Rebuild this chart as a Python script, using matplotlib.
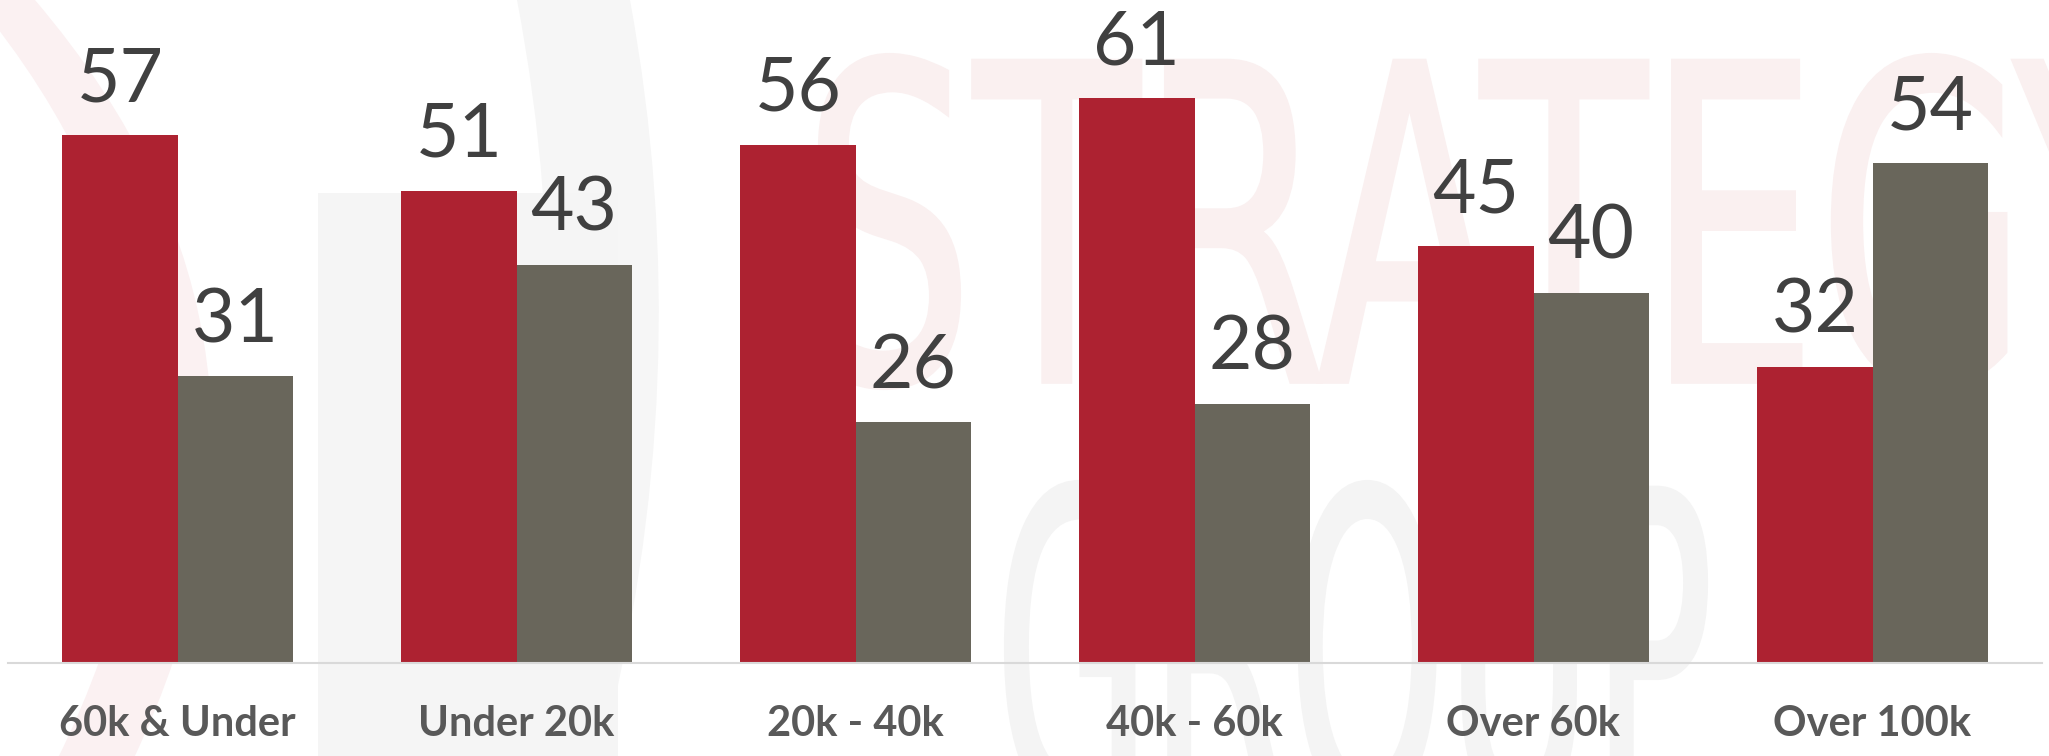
import matplotlib
matplotlib.use('Agg')
import matplotlib.pyplot as plt
from matplotlib.textpath import TextPath
from matplotlib.patches import PathPatch, Rectangle
from matplotlib.path import Path
from matplotlib.transforms import Affine2D
from matplotlib.font_manager import FontProperties

categories = ['60k & Under', 'Under 20k', '20k - 40k', '40k - 60k', 'Over 60k', 'Over 100k']
red_vals = [57, 51, 56, 61, 45, 32]
gray_vals = [31, 43, 26, 28, 40, 54]

RED = '#AD2231'
GRAY = '#69665B'
W, H = 2049, 756

fig = plt.figure(figsize=(W / 100, H / 100), dpi=100)
fig.patch.set_facecolor('white')


def px(x, y):
    # pixel (from top-left) -> figure fraction
    return (x / W, (H - y) / H)


def watermark(s, x0, y0, w, h, color):
    # faint logo text, box given in pixels from the top-left corner
    tp = TextPath((0, 0), s, size=100, prop=FontProperties(family='DejaVu Sans'))
    ext = tp.get_extents()
    tr = (Affine2D().translate(-ext.x0, -ext.y0)
          .scale(w / ext.width / W, h / ext.height / H)
          .translate(x0 / W, (H - y0 - h) / H))
    fig.add_artist(PathPatch(tr.transform_path(tp), fc=color, ec=color, lw=3,
                             transform=fig.transFigure, zorder=-2))


def band(outer, inner, color):
    # two quadratic curves (start, control, end) closed into one band
    verts = [px(*outer[0]), px(*outer[1]), px(*outer[2]),
             px(*inner[2]), px(*inner[1]), px(*inner[0]), px(*outer[0])]
    codes = [Path.MOVETO, Path.CURVE3, Path.CURVE3,
             Path.LINETO, Path.CURVE3, Path.CURVE3, Path.CLOSEPOLY]
    fig.add_artist(PathPatch(Path(verts, codes), fc=color, ec='none',
                             transform=fig.transFigure, zorder=-3))


# background logo pieces
band([(35, 0), (330, 346), (133, 760)], [(-25, 0), (262, 346), (57, 760)], '#FBF1F2')
band([(630, 0), (700, 380), (600, 760)], [(517, 0), (590, 380), (490, 760)], '#F6F6F6')
fig.add_artist(Rectangle(px(318, 760), 300 / W, (760 - 193) / H, fc='#F5F5F5', ec='none',
                         transform=fig.transFigure, zorder=-3))
watermark('STRATEGY', 820, 55, 1360, 333, '#FAF0F0')
watermark('GROUP', 1006, 482, 700, 330, '#F4F4F4')

ax = fig.add_axes([8 / W, 93 / H, 2034 / W, 648 / H])
ax.set_facecolor('none')

x = range(len(categories))
bw = 0.34
ax.bar([i - bw / 2 for i in x], red_vals, width=bw, color=RED, zorder=2)
ax.bar([i + bw / 2 for i in x], gray_vals, width=bw, color=GRAY, zorder=2)

for i in x:
    ax.annotate(str(red_vals[i]), (i - bw / 2, red_vals[i]), xytext=(0, 24.5),
                textcoords='offset points', ha='center', va='baseline',
                fontsize=54, family='Lato', color='#404040')
    ax.annotate(str(gray_vals[i]), (i + bw / 2, gray_vals[i]), xytext=(0, 24.5),
                textcoords='offset points', ha='center', va='baseline',
                fontsize=54, family='Lato', color='#404040')

ax.set_xlim(-0.5, 5.5)
ax.set_ylim(0, 70)
ax.set_yticks([])
ax.set_xticks(list(x))
ax.set_xticklabels(categories, fontsize=30, fontweight='bold', family='Lato', color='#595959')
ax.tick_params(axis='x', length=0, pad=30)
for side in ['top', 'right', 'left']:
    ax.spines[side].set_visible(False)
ax.spines['bottom'].set_color('#D9D9D9')
ax.spines['bottom'].set_linewidth(1.5)

fig.savefig('out.png', dpi=100)
